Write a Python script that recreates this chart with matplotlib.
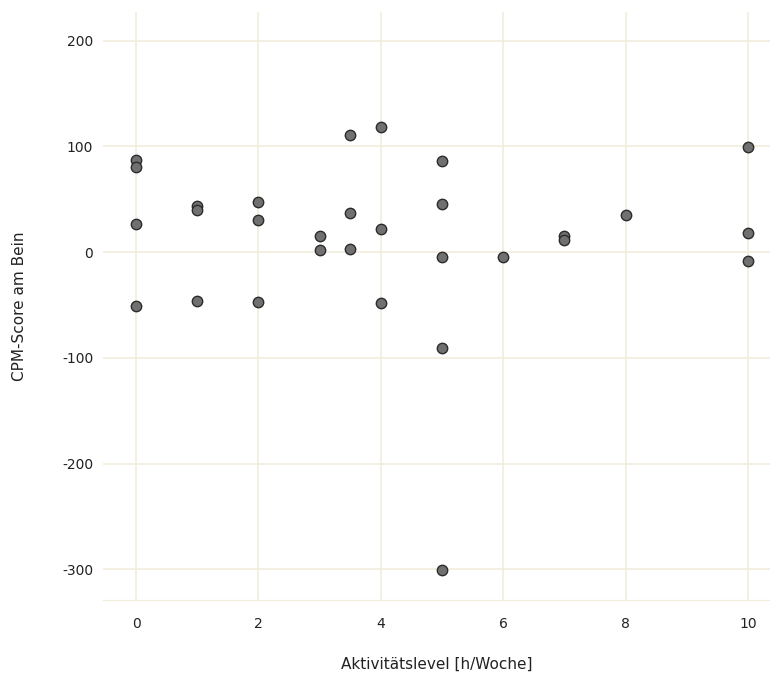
import matplotlib
matplotlib.use("Agg")
import matplotlib.pyplot as plt

# Aktivitätslevel [h/Woche] vs. CPM-Score am Bein
activity = [0, 0, 0, 0,
            1, 1, 1,
            2, 2, 2,
            3, 3,
            3.5, 3.5, 3.5,
            4, 4, 4,
            5, 5, 5, 5, 5,
            6,
            7, 7,
            8,
            10, 10, 10]
cpm_score = [87, 80, 27, -51,
             44, 40, -46,
             47, 30, -47,
             15, 2,
             111, 37, 3,
             118, 22, -48,
             86, 45, -5, -91, -301,
             -5,
             15, 11,
             35,
             99, 18, -8]

x_ticks = [0, 2, 4, 6, 8, 10]
y_ticks = [-300, -200, -100, 0, 100, 200]

grid_color = "#f1ecdc"
plt.rcParams["axes.unicode_minus"] = False

fig = plt.figure(figsize=(7.7, 6.79), dpi=100)
ax = fig.add_axes([103 / 770, 79 / 679, 667 / 770, 588 / 679])

ax.scatter(activity, cpm_score, s=56, color="#707070", edgecolors="#2b2b2b",
           linewidths=1.0, zorder=3)

ax.set_xlim(-0.54, 10.36)
ax.set_ylim(-329, 227)
ax.set_xticks(x_ticks)
ax.set_yticks(y_ticks)
ax.grid(True, color=grid_color, linewidth=1.2, zorder=0)
ax.set_axisbelow(True)
for side in ["top", "right", "left"]:
    ax.spines[side].set_visible(False)
ax.spines["bottom"].set_color(grid_color)
ax.tick_params(length=0, labelsize=10, colors="#222222")
ax.tick_params(axis="x", pad=12)
ax.tick_params(axis="y", pad=7)

ax.set_xlabel("Aktivitätslevel [h/Woche]", fontsize=11, color="#222222", labelpad=19)
ax.set_ylabel("CPM-Score am Bein", fontsize=11, color="#222222", labelpad=25)

fig.savefig("out.png", dpi=100, facecolor="white")
